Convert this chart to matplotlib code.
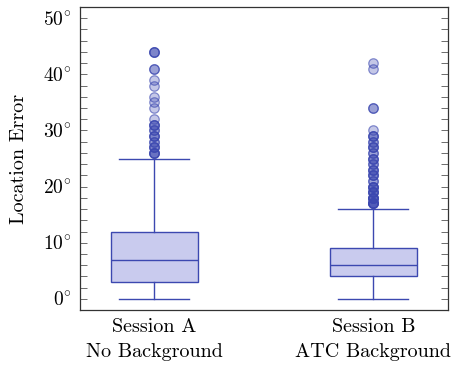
import matplotlib
matplotlib.use("Agg")
import matplotlib.pyplot as plt

plt.rcParams['font.family'] = 'cmr10'
plt.rcParams['mathtext.fontset'] = 'cm'
plt.rcParams['axes.unicode_minus'] = False

# box statistics (degrees)
labels = ['Session A\nNo Background', 'Session B\nATC Background']
whislo = [0, 0]
q1 = [3, 4]
med = [7, 6]
q3 = [12, 9]
whishi = [25, 16]

# outliers (repeats = overlapping points that look darker)
fliers_a = [44, 44, 44, 41, 41, 39, 38, 36, 35, 34, 32, 31, 31, 31, 30, 30,
            29, 29, 29, 28, 28, 27, 27, 27, 26, 26, 26, 26]
fliers_b = [42, 41, 34, 34, 30, 29, 29, 29, 28, 28, 27, 27, 27, 26, 26,
            25, 25, 25, 24, 24, 23, 23, 23, 22, 22, 22, 21, 21, 20, 20, 20, 20,
            19, 19, 19, 19, 18, 18, 18, 18, 18, 17, 17, 17, 17, 17, 17]
fliers = [fliers_a, fliers_b]

yticks = [0, 10, 20, 30, 40, 50]

blue = '#3c48b0'
stats = []
for i in range(2):
    stats.append(dict(whislo=whislo[i], q1=q1[i], med=med[i], q3=q3[i],
                      whishi=whishi[i], fliers=fliers[i], label=labels[i]))

fig = plt.figure(figsize=(4.57, 3.67), dpi=100)
ax = fig.add_axes([0.175, 0.155, 0.805, 0.826])

ax.bxp(stats, positions=[1, 2], widths=0.4, patch_artist=True,
       boxprops=dict(facecolor='#c9cbee', edgecolor=blue, linewidth=1.0),
       medianprops=dict(color=blue, linewidth=1.0),
       whiskerprops=dict(color=blue, linewidth=1.0),
       capprops=dict(color=blue, linewidth=1.0),
       capwidths=0.32,
       flierprops=dict(marker='o', markersize=6.8,
                       markerfacecolor=(0.235, 0.282, 0.69, 0.3),
                       markeredgecolor=(0.235, 0.282, 0.69, 0.6),
                       markeredgewidth=0.9, linestyle='none'))

ax.set_xlim(0.66, 2.34)
ax.set_ylim(-2, 52)
ax.set_yticks(yticks)
ax.set_yticklabels([r'$%d^{\!\circ}$' % v for v in yticks], fontsize=14)
ax.set_yticks(range(-2, 52, 2), minor=True)
ax.tick_params(axis='y', which='both', direction='in', left=True, right=True,
               length=5, width=0.6, color='#555555')
ax.tick_params(axis='y', pad=6)
ax.tick_params(axis='x', length=0, labelsize=14.5, pad=6)
ax.set_xticklabels(labels, linespacing=1.45)
ax.set_ylabel('Location Error', fontsize=14.5, labelpad=11)
for s in ax.spines.values():
    s.set_linewidth(0.9)
    s.set_color('#333333')

fig.savefig('out.png', dpi=100)
